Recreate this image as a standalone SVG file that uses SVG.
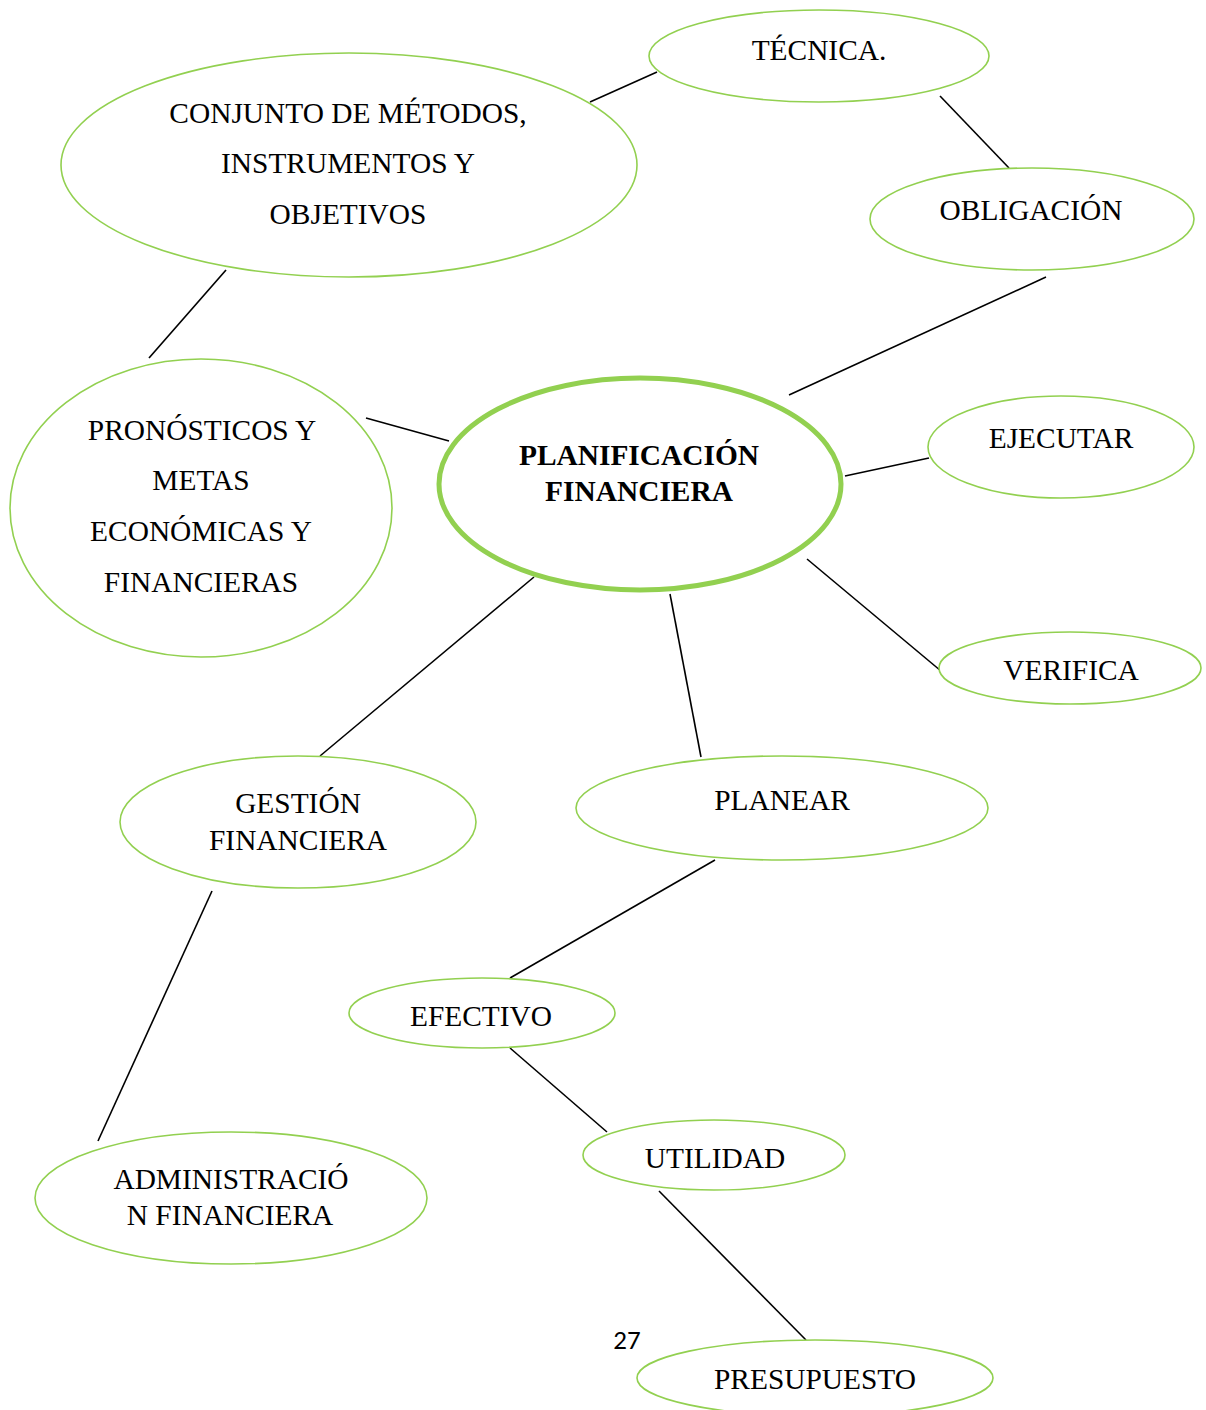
<svg xmlns="http://www.w3.org/2000/svg" width="1206" height="1410" viewBox="0 0 1206 1410">
<style>
.n{fill:#fff;stroke:#92D050;stroke-width:1.6}
.m{fill:#fff;stroke:#92D050;stroke-width:5}
.t{font-family:"Liberation Serif","Times New Roman",serif;font-size:29.4px;fill:#000;text-anchor:middle}
.b{font-weight:bold}
.c line{stroke:#000;stroke-width:1.6}
</style>
<rect width="1206" height="1410" fill="#fff"/>
<g class="c" id="connectors">
<line x1="590" y1="102" x2="657" y2="72"/>
<line x1="940" y1="96" x2="1009" y2="168"/>
<line x1="226" y1="270" x2="149" y2="358"/>
<line x1="366" y1="418" x2="449" y2="441"/>
<line x1="1046" y1="277" x2="789" y2="395"/>
<line x1="845" y1="476" x2="929" y2="458"/>
<line x1="807" y1="559" x2="941" y2="671"/>
<line x1="534" y1="577" x2="320" y2="756"/>
<line x1="670" y1="594" x2="701" y2="757"/>
<line x1="715" y1="860" x2="510" y2="978"/>
<line x1="510" y1="1048" x2="607" y2="1132"/>
<line x1="212" y1="891" x2="98" y2="1141"/>
<line x1="659" y1="1191" x2="806" y2="1340"/>
</g>
<g id="tecnica"><ellipse class="n" cx="819" cy="56" rx="170" ry="46"/><text class="t" x="819" y="60">TÉCNICA.</text></g>
<g id="conjunto"><ellipse class="n" cx="349" cy="165" rx="288" ry="112"/>
<text class="t" x="348" y="123">CONJUNTO DE MÉTODOS,</text>
<text class="t" x="348" y="173">INSTRUMENTOS Y</text>
<text class="t" x="348" y="224">OBJETIVOS</text></g>
<g id="obligacion"><ellipse class="n" cx="1032" cy="219" rx="162" ry="51"/><text class="t" x="1031" y="220">OBLIGACIÓN</text></g>
<g id="pronosticos"><ellipse class="n" cx="201" cy="508" rx="191" ry="149"/>
<text class="t" x="202" y="440">PRONÓSTICOS Y</text>
<text class="t" x="201" y="490">METAS</text>
<text class="t" x="201" y="541">ECONÓMICAS Y</text>
<text class="t" x="201" y="592">FINANCIERAS</text></g>
<g id="planificacion"><ellipse class="m" cx="640" cy="484" rx="201" ry="106"/>
<text class="t b" x="639" y="465">PLANIFICACIÓN</text>
<text class="t b" x="639" y="501">FINANCIERA</text></g>
<g id="ejecutar"><ellipse class="n" cx="1061" cy="447" rx="133" ry="51"/><text class="t" x="1061" y="448">EJECUTAR</text></g>
<g id="verifica"><ellipse class="n" cx="1070" cy="668" rx="131" ry="36"/><text class="t" x="1071" y="680">VERIFICA</text></g>
<g id="gestion"><ellipse class="n" cx="298" cy="822" rx="178" ry="66"/>
<text class="t" x="298" y="813">GESTIÓN</text>
<text class="t" x="298" y="850">FINANCIERA</text></g>
<g id="planear"><ellipse class="n" cx="782" cy="808" rx="206" ry="52"/><text class="t" x="782" y="810">PLANEAR</text></g>
<g id="efectivo"><ellipse class="n" cx="482" cy="1013" rx="133" ry="35"/><text class="t" x="481" y="1026">EFECTIVO</text></g>
<g id="utilidad"><ellipse class="n" cx="714" cy="1155" rx="131" ry="35"/><text class="t" x="715" y="1168">UTILIDAD</text></g>
<g id="administracion"><ellipse class="n" cx="231" cy="1198" rx="196" ry="66"/>
<text class="t" x="231" y="1189">ADMINISTRACIÓ</text>
<text class="t" x="230" y="1225">N FINANCIERA</text></g>
<g id="presupuesto"><ellipse class="n" cx="815" cy="1378" rx="178" ry="38"/><text class="t" x="815" y="1389">PRESUPUESTO</text></g>
<text x="627" y="1349" font-family="Carlito,'Open Sans','Liberation Sans',sans-serif" font-size="27" text-anchor="middle" fill="#000">27</text>
</svg>
